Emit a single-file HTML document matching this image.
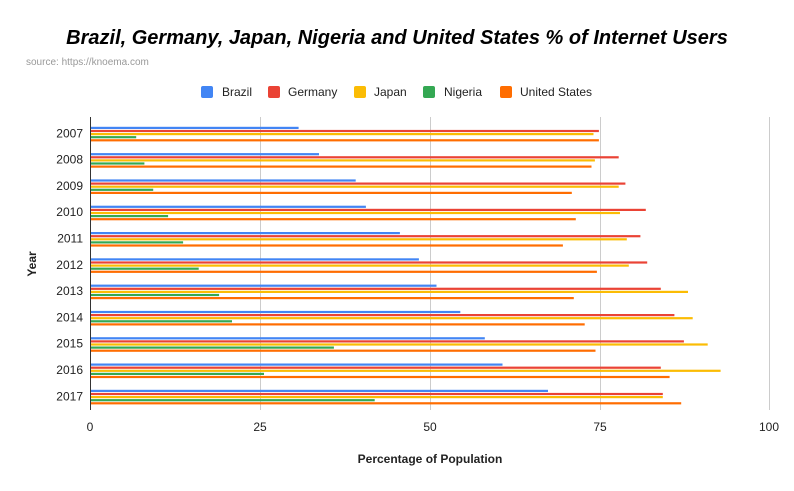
<!DOCTYPE html>
<html><head><style>body{margin:0;background:#fff}svg{display:block}text{font-family:"Liberation Sans",Arial,sans-serif}</style></head>
<body>
<svg width="794" height="491" viewBox="0 0 794 491" xmlns="http://www.w3.org/2000/svg">
<rect width="794" height="491" fill="#fff"/>
<text x="397" y="44" text-anchor="middle" font-size="20" font-weight="bold" font-style="italic" fill="#000">Brazil, Germany, Japan, Nigeria and United States % of Internet Users</text>
<text x="26" y="65" font-size="10" fill="#999">source: https://knoema.com</text>
<g font-size="12" fill="#222">
<rect x="201" y="86" width="12" height="12" rx="2" fill="#4285f4"/><text x="222" y="96">Brazil</text>
<rect x="268" y="86" width="12" height="12" rx="2" fill="#ea4335"/><text x="288" y="96">Germany</text>
<rect x="354" y="86" width="12" height="12" rx="2" fill="#fbbc04"/><text x="374" y="96">Japan</text>
<rect x="423" y="86" width="12" height="12" rx="2" fill="#34a853"/><text x="444" y="96">Nigeria</text>
<rect x="500" y="86" width="12" height="12" rx="2" fill="#ff6d01"/><text x="520" y="96">United States</text>
</g>
<g stroke="#ccc" stroke-width="1">
<line x1="260.5" y1="117" x2="260.5" y2="410"/><line x1="430.5" y1="117" x2="430.5" y2="410"/><line x1="600.5" y1="117" x2="600.5" y2="410"/><line x1="769.5" y1="117" x2="769.5" y2="410"/>
</g>
<g font-size="12" fill="#222" text-anchor="middle">
<text x="90" y="431">0</text><text x="260" y="431">25</text><text x="430" y="431">50</text><text x="600" y="431">75</text><text x="769" y="431">100</text>
</g>
<text x="430" y="463" text-anchor="middle" font-size="12" font-weight="bold" fill="#222">Percentage of Population</text>
<text transform="translate(36,264) rotate(-90)" text-anchor="middle" font-size="12" font-weight="bold" fill="#222">Year</text>

<g font-size="12" fill="#222" text-anchor="end">
<g transform="translate(90,126.8)"><text x="-7" y="10.5">2007</text><rect y="0" width="208.6" height="2.2" fill="#4285f4"/><rect y="3.1" width="508.9" height="2.2" fill="#ea4335"/><rect y="6.2" width="503.5" height="2.2" fill="#fbbc04"/><rect y="9.3" width="46.2" height="2.2" fill="#34a853"/><rect y="12.4" width="508.9" height="2.2" fill="#ff6d01"/></g>
<g transform="translate(90,153.1)"><text x="-7" y="10.5">2008</text><rect y="0" width="229" height="2.2" fill="#4285f4"/><rect y="3.1" width="528.7" height="2.2" fill="#ea4335"/><rect y="6.2" width="504.9" height="2.2" fill="#fbbc04"/><rect y="9.3" width="54.4" height="2.2" fill="#34a853"/><rect y="12.4" width="501.5" height="2.2" fill="#ff6d01"/></g>
<g transform="translate(90,179.4)"><text x="-7" y="10.5">2009</text><rect y="0" width="265.7" height="2.2" fill="#4285f4"/><rect y="3.1" width="535.4" height="2.2" fill="#ea4335"/><rect y="6.2" width="528.7" height="2.2" fill="#fbbc04"/><rect y="9.3" width="63.2" height="2.2" fill="#34a853"/><rect y="12.4" width="481.8" height="2.2" fill="#ff6d01"/></g>
<g transform="translate(90,205.7)"><text x="-7" y="10.5">2010</text><rect y="0" width="275.9" height="2.2" fill="#4285f4"/><rect y="3.1" width="555.8" height="2.2" fill="#ea4335"/><rect y="6.2" width="530" height="2.2" fill="#fbbc04"/><rect y="9.3" width="78.1" height="2.2" fill="#34a853"/><rect y="12.4" width="485.8" height="2.2" fill="#ff6d01"/></g>
<g transform="translate(90,232)"><text x="-7" y="10.5">2011</text><rect y="0" width="309.9" height="2.2" fill="#4285f4"/><rect y="3.1" width="550.4" height="2.2" fill="#ea4335"/><rect y="6.2" width="536.8" height="2.2" fill="#fbbc04"/><rect y="9.3" width="93.1" height="2.2" fill="#34a853"/><rect y="12.4" width="472.9" height="2.2" fill="#ff6d01"/></g>
<g transform="translate(90,258.3)"><text x="-7" y="10.5">2012</text><rect y="0" width="328.9" height="2.2" fill="#4285f4"/><rect y="3.1" width="557.2" height="2.2" fill="#ea4335"/><rect y="6.2" width="538.8" height="2.2" fill="#fbbc04"/><rect y="9.3" width="108.7" height="2.2" fill="#34a853"/><rect y="12.4" width="506.9" height="2.2" fill="#ff6d01"/></g>
<g transform="translate(90,284.6)"><text x="-7" y="10.5">2013</text><rect y="0" width="346.5" height="2.2" fill="#4285f4"/><rect y="3.1" width="570.8" height="2.2" fill="#ea4335"/><rect y="6.2" width="598" height="2.2" fill="#fbbc04"/><rect y="9.3" width="129.1" height="2.2" fill="#34a853"/><rect y="12.4" width="483.8" height="2.2" fill="#ff6d01"/></g>
<g transform="translate(90,310.9)"><text x="-7" y="10.5">2014</text><rect y="0" width="370.3" height="2.2" fill="#4285f4"/><rect y="3.1" width="584.4" height="2.2" fill="#ea4335"/><rect y="6.2" width="602.7" height="2.2" fill="#fbbc04"/><rect y="9.3" width="142" height="2.2" fill="#34a853"/><rect y="12.4" width="494.7" height="2.2" fill="#ff6d01"/></g>
<g transform="translate(90,337.2)"><text x="-7" y="10.5">2015</text><rect y="0" width="394.8" height="2.2" fill="#4285f4"/><rect y="3.1" width="593.9" height="2.2" fill="#ea4335"/><rect y="6.2" width="617.7" height="2.2" fill="#fbbc04"/><rect y="9.3" width="243.9" height="2.2" fill="#34a853"/><rect y="12.4" width="505.5" height="2.2" fill="#ff6d01"/></g>
<g transform="translate(90,363.5)"><text x="-7" y="10.5">2016</text><rect y="0" width="412.5" height="2.2" fill="#4285f4"/><rect y="3.1" width="570.8" height="2.2" fill="#ea4335"/><rect y="6.2" width="630.6" height="2.2" fill="#fbbc04"/><rect y="9.3" width="174" height="2.2" fill="#34a853"/><rect y="12.4" width="579.6" height="2.2" fill="#ff6d01"/></g>
<g transform="translate(90,389.8)"><text x="-7" y="10.5">2017</text><rect y="0" width="458" height="2.2" fill="#4285f4"/><rect y="3.1" width="572.8" height="2.2" fill="#ea4335"/><rect y="6.2" width="572.8" height="2.2" fill="#fbbc04"/><rect y="9.3" width="284.7" height="2.2" fill="#34a853"/><rect y="12.4" width="591.2" height="2.2" fill="#ff6d01"/></g>
</g>
<line x1="90.5" y1="117" x2="90.5" y2="410" stroke="#333" stroke-width="1"/>
</svg>
</body></html>
